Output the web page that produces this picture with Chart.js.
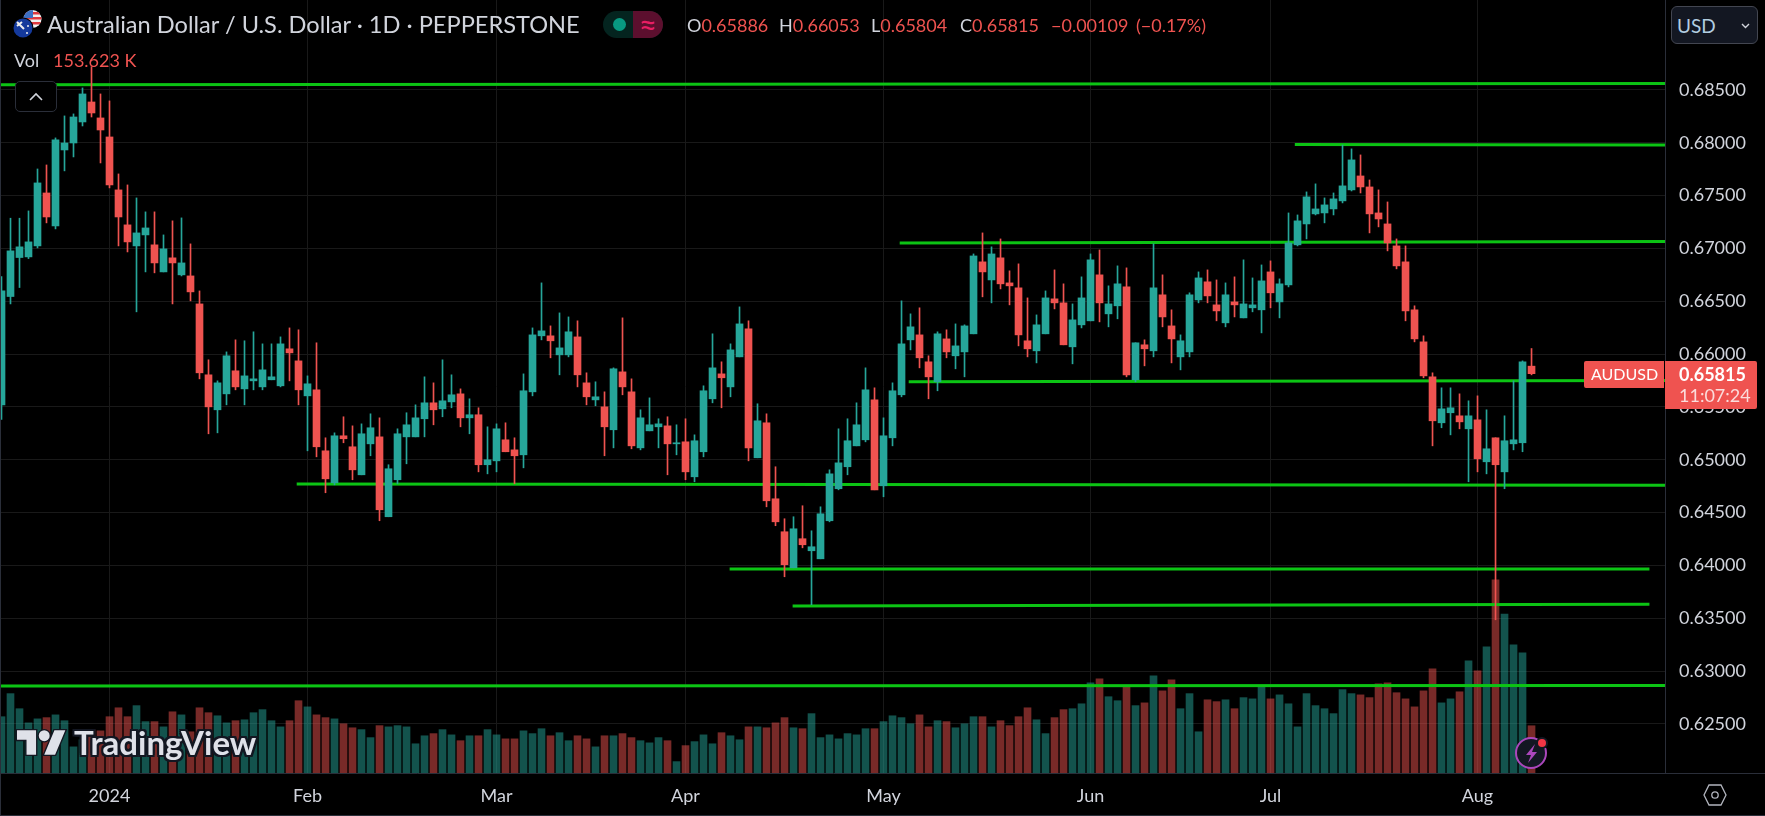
<!DOCTYPE html>
<html>
<head>
<meta charset="utf-8">
<title>AUDUSD</title>
<script src="https://cdn.jsdelivr.net/npm/chart.js@4/dist/chart.umd.min.js"></script>
<style>
    html, body { margin: 0; padding: 0; background: #000; width: 1765px; height: 816px; overflow: hidden; }
    #wrap { position: relative; width: 1765px; height: 816px; font-family: Lato, "Open Sans", sans-serif; }
    #chart { position: absolute; left: 0; top: 0; }
    .t { position: absolute; white-space: nowrap; line-height: 1; }
    .title { left: 47px; top: 13px; font-size: 23.6px; color: #d1d4dc; }
    .ohlc { top: 16px; font-size: 18px; color: #ef5350; }
    .ohlc b { font-weight: 400; color: #d1d4dc; }
    .vol { top: 51px; font-size: 18px; }
    #pill { position: absolute; left: 603px; top: 11px; width: 60px; height: 27px; border-radius: 14px; overflow: hidden; background: #04241f; }
    #pill i { position: absolute; left: 10px; top: 7px; width: 13px; height: 13px; border-radius: 50%; background: #089981; }
    #pill span { position: absolute; left: 30px; top: 0; width: 30px; height: 27px; background: #5c0f2e; color: #e91e63; font-size: 32px; line-height: 25px; text-align: center; }
    #collapse { position: absolute; left: 15px; top: 81px; width: 40px; height: 29px; border: 1px solid #2a2e39; border-radius: 5px; background: #000; }
    #usd { position: absolute; left: 1671px; top: 6px; width: 85px; height: 36px; border: 1px solid #434651; border-radius: 6px; background: #131722; }
    #usd span { position: absolute; left: 5px; top: 9px; font-size: 19px; color: #b2cde0; line-height: 1; }
    svg { position: absolute; overflow: visible; }
    .tv { left: 74px; top: 726px; font-size: 33px; font-weight: 700; color: #dfe1e9;
        text-shadow: 2px 0 #131722, -2px 0 #131722, 0 2px #131722, 0 -2px #131722, 2px 2px #131722, -2px -2px #131722, 2px -2px #131722, -2px 2px #131722; }
</style>
</head>
<body>
<div id="wrap">
    <canvas id="chart" width="1765" height="816"></canvas>

    <svg style="left:13px;top:9px" width="34" height="30" viewBox="0 0 34 30">
        <defs><clipPath id="us"><circle cx="19.5" cy="10" r="9"/></clipPath></defs>
        <g clip-path="url(#us)">
            <rect x="10" y="0" width="20" height="20" fill="#f0f0f0"/>
            <rect x="10" y="3" width="20" height="2.5" fill="#e0393e"/>
            <rect x="10" y="8" width="20" height="2.5" fill="#e0393e"/>
            <rect x="10" y="13" width="20" height="2.5" fill="#e0393e"/>
            <rect x="10" y="0" width="10" height="9" fill="#3d6fc4"/>
        </g>
        <circle cx="10" cy="19" r="10.5" fill="#000"/>
        <circle cx="10" cy="19" r="9.5" fill="#14399c"/>
        <path d="M4 13l7 7M4 17l5-4" stroke="#eee" stroke-width="2"/>
        <circle cx="14" cy="24" r="1" fill="#eee"/><circle cx="15" cy="17" r="1" fill="#eee"/>
    </svg>
    <div class="t title">Australian Dollar / U.S. Dollar · 1D · PEPPERSTONE</div>
    <div id="pill"><i></i><span>≈</span></div>
    <div class="t ohlc" style="left:687px"><b>O</b>0.65886</div>
    <div class="t ohlc" style="left:779px"><b>H</b>0.66053</div>
    <div class="t ohlc" style="left:871px"><b>L</b>0.65804</div>
    <div class="t ohlc" style="left:960px"><b>C</b>0.65815</div>
    <div class="t ohlc" style="left:1051px">−0.00109</div>
    <div class="t ohlc" style="left:1136px">(−0.17%)</div>
    <div class="t vol" style="left:14px;color:#d1d4dc">Vol</div>
    <div class="t vol" style="left:53px;color:#ef5350">153.623 K</div>

    <div id="collapse">
        <svg style="left:13px;top:10px" width="14" height="9" viewBox="0 0 14 9"><path d="M1 8l6-6 6 6" fill="none" stroke="#d1d4dc" stroke-width="1.6"/></svg>
    </div>

    <div id="usd">
        <span>USD</span>
        <svg style="left:69px;top:16px" width="9" height="6" viewBox="0 0 9 6"><path d="M1 1l3.5 3.5L8 1" fill="none" stroke="#d1d4dc" stroke-width="1.4"/></svg>
    </div>

    <svg style="left:17px;top:730px" width="49" height="25" viewBox="0 4 36 18">
        <path d="M14 22H7V11H0V4h14v18zM28 22h-8l7.5-18h8L28 22z" fill="#dfe1e9" stroke="#131722" stroke-width="2" paint-order="stroke"/>
        <circle cx="20" cy="8" r="4" fill="#dfe1e9" stroke="#131722" stroke-width="2" paint-order="stroke"/>
    </svg>
    <div class="t tv">TradingView</div>

    <svg style="left:1515px;top:736px" width="34" height="34" viewBox="0 0 34 34">
        <circle cx="16" cy="17" r="15" fill="#131722" stroke="#ab47bc" stroke-width="2"/>
        <path d="M20 8l-9 11h5l-3 8 9-11h-5z" fill="#ab47bc"/>
        <circle cx="27" cy="7" r="6" fill="#131722"/>
        <circle cx="27" cy="7" r="4" fill="#f23645"/>
    </svg>

    <svg style="left:1703px;top:784px" width="24" height="22" viewBox="0 0 24 22">
        <path d="M6 1h12l5 10-5 10H6L1 11z" fill="none" stroke="#b2b5be" stroke-width="1.3"/>
        <circle cx="12" cy="11" r="3.2" fill="none" stroke="#b2b5be" stroke-width="1.3"/>
    </svg>
</div>

<script>
const opens = [0.65520,0.66545,0.66914,0.66920,0.67024,0.67525,0.67213,0.67932,0.67998,0.68197,0.68386,0.68235,0.68055,0.67554,0.67223,0.67024,0.67128,0.67034,0.66778,0.66911,0.66750,0.66740,0.66475,0.65804,0.65473,0.65624,0.65842,0.65671,0.65747,0.65690,0.65757,0.65700,0.66050,0.65936,0.65605,0.65662,0.65085,0.64782,0.65227,0.65123,0.64858,0.65151,0.65217,0.64461,0.64811,0.65217,0.65217,0.65388,0.65539,0.65482,0.65548,0.65624,0.65397,0.65426,0.64953,0.64990,0.65189,0.65094,0.65047,0.65643,0.66173,0.66173,0.65993,0.65993,0.66163,0.65728,0.65567,
    0.65501,0.65284,0.65832,0.65643,0.65113,0.65274,0.65312,0.65321,0.65151,0.65170,0.64839,0.65076,0.65577,0.65813,0.65690,0.65974,0.66239,0.65019,0.65350,0.64631,0.64319,0.63978,0.64253,0.64139,0.64063,0.64423,0.64726,0.64934,0.65132,0.65189,0.65567,0.64754,0.65208,0.65615,0.66135,0.66182,0.65927,0.65738,0.66144,0.65984,0.66021,0.66192,0.66873,0.66702,0.66911,0.66674,0.66627,0.66126,0.66031,0.66192,0.66523,0.66485,0.66069,0.66277,0.66315,0.66750,0.66381,0.66457,0.66636,0.65757,0.66088,0.66031,0.66561,0.66267,0.65974,0.66021,0.66513,
    0.66684,0.66466,0.66296,0.66494,0.66343,0.66438,0.66419,0.66778,0.66494,0.66655,0.67034,0.67232,0.67327,0.67336,0.67374,0.67450,0.67554,0.67686,0.67582,0.67336,0.67232,0.67024,0.66873,0.66419,0.66116,0.65785,0.65350,0.65445,0.65416,0.65293,0.65378,0.64981,0.65208,0.64886,0.65151,0.65161,0.65886];
const closes = [0.66598,0.66977,0.67015,0.67062,0.67620,0.67298,0.68027,0.67998,0.68244,0.68462,0.68282,0.68121,0.67601,0.67298,0.67062,0.67147,0.67194,0.66863,0.66996,0.66863,0.66863,0.66589,0.65823,0.65501,0.65728,0.65984,0.65690,0.65794,0.65766,0.65851,0.65785,0.66097,0.66012,0.65662,0.65719,0.65123,0.64820,0.65227,0.65199,0.64905,0.65246,0.65303,0.64527,0.64915,0.65246,0.65331,0.65397,0.65539,0.65473,0.65558,0.65615,0.65397,0.65426,0.64953,0.65000,0.65293,0.65076,0.65038,0.65653,0.66182,0.66220,0.66126,0.66059,0.66211,0.65804,0.65596,0.65596,
    0.65312,0.65861,0.65690,0.65132,0.65397,0.65331,0.65340,0.65151,0.65161,0.64886,0.65180,0.65653,0.65870,0.65776,0.66040,0.66286,0.65113,0.65369,0.64612,0.64413,0.64007,0.64347,0.64196,0.64177,0.64489,0.64867,0.64971,0.65180,0.65331,0.65662,0.64716,0.65227,0.65653,0.66097,0.66258,0.65965,0.65785,0.66192,0.66021,0.66078,0.66267,0.66929,0.66778,0.66948,0.66665,0.66646,0.66182,0.66050,0.66277,0.66532,0.66485,0.66088,0.66324,0.66532,0.66892,0.66485,0.66475,0.66665,0.65804,0.66107,0.66050,0.66627,0.66352,0.66144,0.66126,0.66561,0.66721,
    0.66551,0.66409,0.66561,0.66466,0.66475,0.66466,0.66693,0.66580,0.66665,0.67052,0.67261,0.67488,0.67374,0.67412,0.67469,0.67592,0.67838,0.67582,0.67327,0.67279,0.67052,0.66835,0.66409,0.66144,0.65794,0.65369,0.65482,0.65492,0.65359,0.65416,0.65009,0.65104,0.64953,0.65180,0.65189,0.65927,0.65815];
const highs = [0.66734,0.67286,0.67286,0.67355,0.67752,0.67790,0.68046,0.68254,0.68273,0.68519,0.68720,0.68462,0.68396,0.67705,0.67601,0.67478,0.67346,0.67346,0.67128,0.67261,0.67289,0.67043,0.66598,0.65946,0.65747,0.66021,0.66135,0.66126,0.66211,0.66097,0.66097,0.66163,0.66248,0.66230,0.65794,0.66107,0.65208,0.65255,0.65407,0.65321,0.65340,0.65435,0.65397,0.64953,0.65293,0.65445,0.65520,0.65785,0.65728,0.65946,0.65804,0.65671,0.65577,0.65492,0.65312,0.65340,0.65350,0.65208,0.65813,0.66248,0.66674,0.66267,0.66390,0.66352,0.66315,0.65823,0.65738,
    0.65643,0.65870,0.66343,0.65766,0.65473,0.65586,0.65388,0.65407,0.65331,0.65388,0.65236,0.65700,0.66192,0.65927,0.66097,0.66447,0.66315,0.65530,0.65435,0.64934,0.64442,0.64461,0.64565,0.64328,0.64555,0.64905,0.65293,0.65388,0.65539,0.65870,0.65681,0.65397,0.65728,0.66504,0.66381,0.66438,0.65984,0.66211,0.66230,0.66286,0.66277,0.66948,0.67147,0.67015,0.67090,0.66788,0.66854,0.66532,0.66371,0.66598,0.66797,0.66665,0.66475,0.66731,0.66948,0.66986,0.66646,0.66835,0.66816,0.66107,0.66135,0.67043,0.66750,0.66419,0.66182,0.66580,0.66778,
    0.66797,0.66702,0.66674,0.66731,0.66892,0.66721,0.66844,0.66882,0.66712,0.67336,0.67317,0.67535,0.67611,0.67478,0.67525,0.67979,0.67942,0.67885,0.67648,0.67554,0.67440,0.67090,0.67024,0.66457,0.66173,0.65823,0.65681,0.65681,0.65624,0.65558,0.65605,0.65473,0.65208,0.65416,0.65747,0.65936,0.66053];
const lows = [0.65381,0.66475,0.66630,0.66904,0.67005,0.67242,0.67185,0.67734,0.67866,0.68159,0.68244,0.67809,0.67573,0.67024,0.66967,0.66400,0.66778,0.66769,0.66778,0.66475,0.66740,0.66504,0.65766,0.65246,0.65255,0.65520,0.65662,0.65520,0.65662,0.65662,0.65757,0.65690,0.65747,0.65520,0.65085,0.65028,0.64688,0.64763,0.65161,0.64811,0.64858,0.65038,0.64423,0.64461,0.64773,0.64962,0.65217,0.65217,0.65331,0.65407,0.65492,0.65312,0.65246,0.64886,0.64867,0.64886,0.65076,0.64773,0.64924,0.65605,0.66135,0.65965,0.65804,0.65974,0.65690,0.65520,0.65511,
    0.65038,0.65113,0.65615,0.65104,0.65094,0.65274,0.65113,0.64858,0.65047,0.64811,0.64792,0.65028,0.65539,0.65492,0.65596,0.65974,0.64990,0.65019,0.64555,0.64376,0.63893,0.63978,0.64167,0.63628,0.64063,0.64413,0.64716,0.64858,0.65132,0.65170,0.64716,0.64650,0.65132,0.65596,0.66040,0.65870,0.65577,0.65653,0.65965,0.65861,0.65785,0.66192,0.66542,0.66485,0.66617,0.66466,0.66078,0.65974,0.65917,0.66192,0.66428,0.66088,0.65908,0.66248,0.66315,0.66305,0.66258,0.66334,0.65785,0.65738,0.65889,0.65974,0.66258,0.65917,0.65851,0.65974,0.66485,
    0.66485,0.66315,0.66258,0.66352,0.66343,0.66400,0.66201,0.66438,0.66343,0.66636,0.67024,0.67090,0.67317,0.67242,0.67317,0.67431,0.67544,0.67525,0.67147,0.67204,0.66977,0.66807,0.66315,0.66116,0.65776,0.65132,0.65303,0.65236,0.65293,0.64792,0.64886,0.64867,0.63486,0.64726,0.65094,0.65076,0.65804];
const volumes = [183,258,209,163,176,180,189,170,85,108,141,137,183,212,183,219,167,167,150,199,189,134,212,196,186,163,170,173,196,206,170,150,170,235,215,189,180,176,160,147,141,115,154,150,154,150,95,121,128,141,124,105,121,121,141,124,111,111,137,128,144,121,131,105,121,111,85,
    121,121,128,115,105,98,115,105,37,89,102,124,95,131,121,108,150,150,147,163,180,147,144,193,115,124,111,128,124,144,144,167,186,180,160,189,150,170,167,147,160,183,183,150,170,154,183,212,173,128,180,206,209,225,293,306,248,235,280,219,228,316,267,303,209,258,134,
    238,232,238,209,245,241,283,241,254,225,150,258,219,209,193,271,258,254,245,290,293,261,241,215,267,339,228,241,264,365,332,410,628,517,417,391,153.623];

const yTicks = [0.625,0.63,0.635,0.64,0.645,0.65,0.655,0.66,0.665,0.67,0.675,0.68,0.685];
const monthBars = [12,34,55,76,98,121,141,164];
const monthLabels = ['2024','Feb','Mar','Apr','May','Jun','Jul','Aug'];

// horizontal levels drawn on the chart: bar start, bar end, price at each end
const levelStart = [-1,143.7,99.8,100.8,32.8,80.9,87.9,-1];
const levelEnd = [186,186,186,186,186,183.1,183.1,186];
const levelFrom = [0.68550,0.67983,0.67052,0.65738,0.64770,0.63966,0.63616,0.62859];
const levelTo = [0.68560,0.67979,0.67065,0.65750,0.64760,0.63966,0.63632,0.62865];

const lastPrice = 0.65815;
const symbolLabel = 'AUDUSD';
const countdown = '11:07:24';

const UP = '#26a69a';
const DOWN = '#ef5350';

let isUp = closes.map((c, i) => c >= opens[i]);

let levelSets = levelStart.map((s, i) => ({
    type: 'line',
    data: [{x: s, y: levelFrom[i]}, {x: levelEnd[i], y: levelTo[i]}],
    borderColor: '#0cc414',
    borderWidth: 3,
    pointRadius: 0,
    order: 5
}));

// price badge and the axis frame that sits on top of everything
const badgePlugin = {
    id: 'badge',
    afterDraw(chart) {
        let ctx = chart.ctx;
        let y = Math.round(chart.scales.y.getPixelForValue(lastPrice)) - 13;
        ctx.save();
        ctx.fillStyle = '#2a2e39';
        ctx.fillRect(1665, 773, 100, 1);
        ctx.fillRect(0, 815, 1765, 1);
        ctx.fillRect(0, 0, 1, 815);

        ctx.fillStyle = DOWN;
        ctx.beginPath();
        ctx.roundRect(1584, y, 80, 27, [2, 0, 0, 2]);
        ctx.roundRect(1665, y, 92, 48, [0, 2, 2, 0]);
        ctx.fill();

        ctx.textBaseline = 'middle';
        ctx.textAlign = 'left';
        ctx.fillStyle = '#fff';
        ctx.font = '16px Lato';
        ctx.fillText(symbolLabel, 1591, y + 14);
        ctx.font = 'bold 18px Lato';
        ctx.fillText(lastPrice.toFixed(5), 1679, y + 14);
        ctx.font = '18px Lato';
        ctx.fillStyle = '#fbdcdb';
        ctx.fillText(countdown, 1679, y + 35);
        ctx.restore();
    }
};

new Chart(document.getElementById('chart'), {
    type: 'bar',
    data: {
        datasets: [
            {
                data: closes.map((c, i) => ({x: i, y: [Math.min(opens[i], c), Math.max(opens[i], c)]})),
                backgroundColor: isUp.map(u => u ? UP : DOWN),
                barThickness: 7,
                grouped: false,
                order: 1
            },
            {
                data: lows.map((l, i) => ({x: i, y: [l, highs[i]]})),
                backgroundColor: isUp.map(u => u ? UP : DOWN),
                barThickness: 1,
                grouped: false,
                order: 2
            },
            ...levelSets,
            {
                data: volumes.map((v, i) => ({x: i, y: v})),
                yAxisID: 'yVol',
                backgroundColor: isUp.map(u => u ? 'rgba(38,166,154,0.5)' : 'rgba(239,83,80,0.5)'),
                barThickness: 7,
                grouped: false,
                order: 10
            }
        ]
    },
    options: {
        responsive: false,
        animation: false,
        layout: {padding: {left: 1, top: 0, right: 0, bottom: 0}},
        plugins: {legend: {display: false}, tooltip: {enabled: false}},
        scales: {
            x: {
                type: 'linear',
                offset: false,
                min: -0.0556,
                max: 184.83,
                afterBuildTicks(s) { s.ticks = monthBars.map(v => ({value: v})); },
                afterFit(s) { s.height = 43; s.paddingLeft = 0; s.paddingRight = 0; },
                grid: {color: '#191919', drawTicks: false, offset: false},
                border: {color: '#2a2e39'},
                ticks: {
                    autoSkip: false,
                    maxRotation: 0,
                    padding: 12,
                    color: '#d1d4dc',
                    font: {family: 'Lato', size: 18},
                    callback: (v, i) => monthLabels[i]
                }
            },
            y: {
                position: 'right',
                min: 0.62036,
                max: 0.69351,
                afterBuildTicks(s) { s.ticks = yTicks.map(v => ({value: v})); },
                afterFit(s) { s.width = 100; s.paddingTop = 0; s.paddingBottom = 0; },
                grid: {color: '#191919', drawTicks: false},
                border: {color: '#2a2e39'},
                ticks: {
                    padding: 14,
                    crossAlign: 'near',
                    color: '#d1d4dc',
                    font: {family: 'Lato', size: 18},
                    callback: v => v.toFixed(5)
                }
            },
            yVol: {
                display: false,
                min: 0,
                max: 2513
            }
        }
    },
    plugins: [badgePlugin]
});
</script>
</body>
</html>
